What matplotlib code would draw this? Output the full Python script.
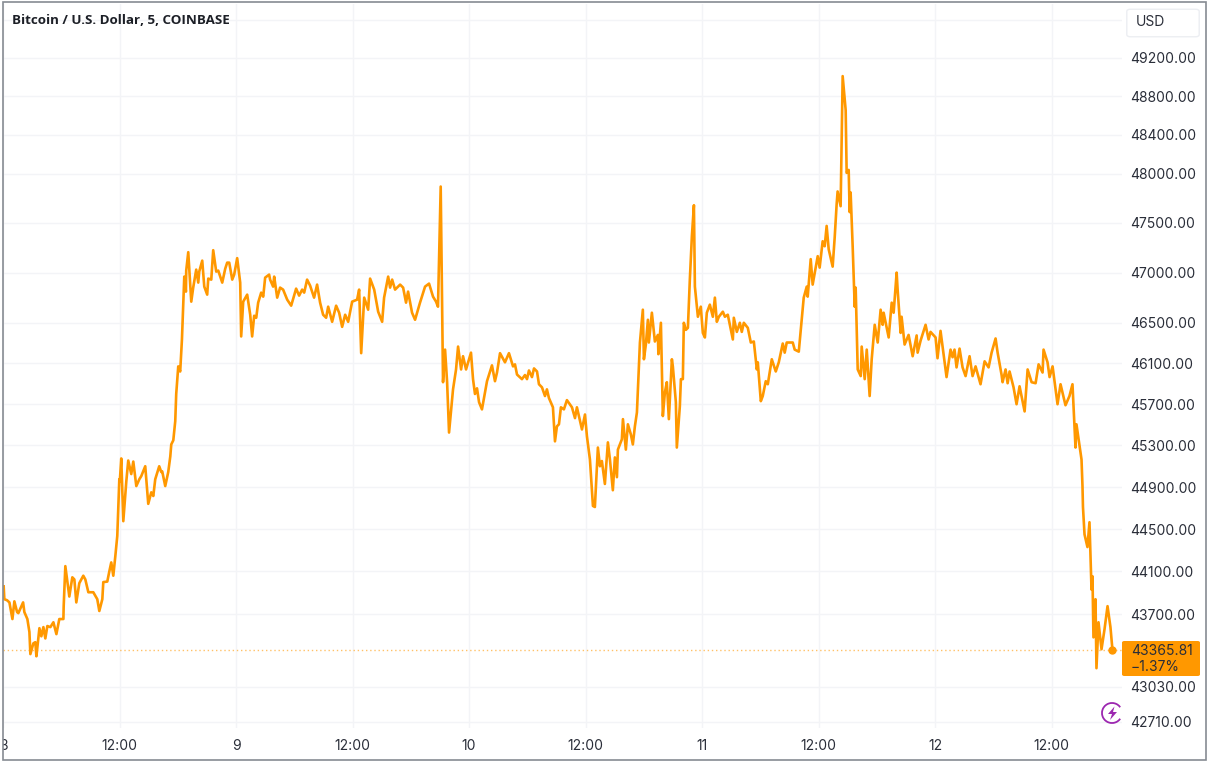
import matplotlib
matplotlib.use("Agg")
import matplotlib.pyplot as plt
from matplotlib.patches import Arc, FancyBboxPatch, Polygon, Rectangle
from matplotlib.transforms import IdentityTransform

plt.rcParams['font.family'] = ['Inter', 'DejaVu Sans']

# hours since the 8th 00:00, and price in USD
hours = [
    0.07, 0.14, 0.42, 0.66, 0.97, 1.17, 1.45, 1.58, 2.07, 2.2, 2.51, 2.72, 2.82, 3.13, 3.33, 3.44,
    3.75, 3.95, 4.16, 4.36, 4.57, 4.88, 5.19, 5.5, 5.8, 6.22, 6.25, 6.42, 6.83, 7.14, 7.35, 7.55,
    7.86, 8.27, 8.48, 8.79, 9.3, 9.71, 9.92, 10.23, 10.33, 10.74, 10.95, 11.15, 11.36, 11.57, 11.77, 11.98,
    12.03, 12.18, 12.39, 12.7, 12.9, 13.21, 13.42, 13.73, 14.04, 14.24, 14.65, 14.96, 15.27, 15.48, 15.68, 16.09,
    16.3, 16.4, 16.71, 17.02, 17.23, 17.33, 17.54, 17.74, 17.84, 18.05, 18.25, 18.43, 18.67, 18.84, 18.87, 19.08,
    19.39, 19.59, 19.9, 20.11, 20.21, 20.52, 20.73, 21.03, 21.14, 21.45, 21.65, 21.96, 22.17, 22.58, 22.89, 23.09,
    23.3, 23.61, 23.81, 24.12, 24.43, 24.53, 24.74, 25.15, 25.46, 25.66, 25.87, 26.08, 26.28, 26.59, 26.8, 27.0,
    27.41, 27.51, 27.82, 27.93, 28.24, 28.54, 28.85, 29.27, 29.68, 30.19, 30.5, 30.81, 31.02, 31.32, 31.63, 32.04,
    32.35, 32.66, 32.97, 33.28, 33.49, 33.9, 34.31, 34.62, 34.93, 35.24, 35.55, 35.96, 36.47, 36.68, 36.89, 37.2,
    37.61, 37.81, 38.23, 38.64, 39.05, 39.25, 39.67, 39.87, 40.08, 40.38, 40.9, 41.21, 41.51, 41.72, 42.13, 42.44,
    42.95, 43.47, 43.88, 44.29, 44.6, 44.8, 45.08, 45.32, 45.53, 45.74, 45.94, 46.25, 46.35, 46.66, 46.87, 47.18,
    47.38, 47.69, 48.2, 48.41, 48.61, 48.82, 49.03, 49.33, 49.64, 49.85, 50.36, 50.67, 50.88, 51.19, 51.7, 52.11,
    52.53, 52.73, 52.94, 53.45, 53.76, 53.97, 54.17, 54.48, 54.69, 55.0, 55.2, 55.51, 55.82, 56.02, 56.23, 56.64,
    56.85, 57.05, 57.26, 57.46, 57.77, 58.08, 58.6, 58.91, 59.11, 59.63, 59.94, 60.14, 60.45, 60.76, 60.96, 61.17,
    61.27, 61.48, 61.68, 61.99, 62.3, 62.51, 62.81, 63.02, 63.23, 63.33, 63.74, 63.85, 64.15, 64.36, 64.67, 64.87,
    65.08, 65.29, 65.6, 65.9, 66.01, 66.21, 66.42, 66.52, 66.83, 67.14, 67.45, 67.5, 67.76, 67.96, 68.17, 68.37,
    68.58, 68.89, 68.99, 69.3, 69.4, 69.71, 69.82, 70.02, 70.12, 70.33, 70.54, 70.74, 70.95, 71.16, 71.26, 71.57,
    71.87, 72.08, 72.29, 72.49, 72.8, 73.11, 73.32, 73.52, 73.73, 74.14, 74.35, 74.65, 75.17, 75.27, 75.58, 75.89,
    76.09, 76.3, 76.71, 77.02, 77.33, 77.64, 77.74, 78.05, 78.25, 78.56, 78.77, 79.18, 79.59, 79.9, 80.31, 80.51,
    80.72, 81.34, 81.54, 81.96, 82.26, 82.47, 82.78, 82.88, 83.19, 83.39, 83.91, 84.11, 84.42, 84.63, 84.83, 85.04,
    85.45, 85.66, 85.86, 85.96, 86.27, 86.48, 86.79, 86.89, 87.1, 87.2, 87.3, 87.51, 87.72, 87.82, 88.03, 88.34,
    88.44, 88.75, 88.96, 89.26, 89.47, 89.78, 90.09, 90.39, 90.6, 90.7, 91.22, 91.53, 91.73, 92.04, 92.14, 92.45,
    92.55, 92.86, 93.27, 93.69, 94.1, 94.2, 94.51, 95.02, 95.33, 95.53, 96.05, 96.25, 96.56, 97.18, 97.59, 97.8,
    98.0, 98.21, 98.52, 98.83, 99.14, 99.55, 99.86, 100.17, 100.68, 101.1, 101.51, 101.82, 102.23, 102.44, 102.85, 102.95,
    103.26, 103.47, 103.67, 104.08, 104.39, 104.7, 105.22, 105.53, 105.94, 106.35, 106.66, 107.07, 107.17, 107.58, 107.79, 108.1,
    108.61, 108.92, 109.43, 109.84, 110.15, 110.46, 110.56, 111.08, 111.18, 111.23, 111.39, 111.69, 111.9, 112.11, 112.21, 112.31,
    112.52, 112.62, 112.83, 113.14, 113.45, 113.76, 114.06, 114.27,
]
price = [
    43960, 43840, 43830, 43810, 43655, 43820, 43720, 43710, 43810, 43720, 43655, 43535, 43330, 43430, 43440, 43310,
    43570, 43495, 43580, 43475, 43590, 43580, 43625, 43515, 43655, 43655, 43775, 44150, 43865, 44045, 44025, 43810,
    43990, 44060, 44025, 43905, 43905, 43840, 43730, 43840, 44000, 44005, 44100, 44185, 44060, 44245, 44435, 44975,
    44955, 45175, 44575, 44955, 45155, 45025, 45145, 44910, 44975, 45005, 45100, 44740, 44850, 44815, 44975, 45100,
    45045, 45050, 44910, 45045, 45195, 45310, 45350, 45535, 45800, 46070, 46020, 46335, 46960, 46810, 47020, 47205,
    46710, 46850, 47030, 46900, 47010, 47120, 46860, 46780, 46940, 46930, 47225, 47010, 47020, 46900, 47040, 47100,
    47100, 46930, 46980, 47145, 46900, 46365, 46710, 46780, 46580, 46365, 46570, 46550, 46700, 46800, 46760, 46950,
    46980, 46930, 46860, 46960, 46750, 46850, 46830, 46730, 46670, 46840, 46770, 46830, 46800, 46930, 46870, 46750,
    46880, 46700, 46580, 46550, 46660, 46510, 46670, 46600, 46460, 46580, 46510, 46710, 46730, 46830, 46200, 46750,
    46630, 46940, 46830, 46610, 46510, 46750, 46960, 46850, 46930, 46830, 46880, 46850, 46700, 46810, 46600, 46530,
    46700, 46860, 46890, 46760, 46710, 46660, 47870, 45915, 46235, 45915, 45425, 45750, 45845, 46040, 46265, 46040,
    46170, 46040, 46205, 45945, 45800, 45855, 45720, 45650, 45815, 45925, 46080, 45925, 46010, 46200, 46110, 46200,
    46070, 46090, 45990, 45945, 45985, 45945, 46030, 45965, 46050, 46020, 45895, 45865, 45780, 45845, 45760, 45670,
    45340, 45485, 45505, 45670, 45650, 45740, 45670, 45565, 45670, 45455, 45600, 45390, 45165, 44720, 44710, 45090,
    45280, 45100, 45150, 44930, 45330, 45165, 44870, 45185, 44995, 45260, 45360, 45555, 45260, 45505, 45405, 45310,
    45485, 45620, 46305, 46630, 46140, 46285, 46530, 46305, 46600, 46315, 46380, 46190, 46500, 45585, 45815, 45915,
    45555, 46140, 46070, 45720, 45280, 45680, 45945, 45945, 46500, 46430, 46450, 46930, 47365, 47680, 46860, 46560,
    46660, 46400, 46355, 46600, 46680, 46560, 46750, 46510, 46560, 46610, 46560, 46580, 46335, 46550, 46410, 46500,
    46410, 46500, 46450, 46305, 46315, 46040, 46110, 45730, 45780, 45925, 45895, 46140, 46020, 46110, 46295, 46205,
    46305, 46305, 46235, 46215, 46530, 46750, 46860, 46760, 47135, 46880, 47165, 47050, 47315, 47265, 47470, 47235,
    47060, 47355, 47690, 47820, 47670, 49010, 48655, 48010, 48040, 47610, 47810, 47265, 46660, 46850, 46040, 45975,
    46265, 45945, 46235, 45780, 46140, 46480, 46305, 46630, 46480, 46600, 46355, 46700, 46600, 47000, 46830, 46400,
    46560, 46285, 46380, 46170, 46375, 46205, 46325, 46480, 46335, 46410, 46355, 46150, 46420, 45965, 46235, 46160,
    46235, 46060, 46245, 46060, 45975, 46170, 45975, 46070, 45895, 46120, 46060, 46205, 46345, 46205, 45985, 45915,
    46040, 45905, 46020, 45865, 45700, 45875, 45630, 46040, 45915, 45905, 46090, 46010, 46235, 46110, 45965, 46070,
    45700, 45895, 45690, 45780, 45895, 45280, 45505, 45165, 44910, 44710, 44450, 44330, 44565, 43930, 44055, 43485,
    43840, 43200, 43625, 43375, 43560, 43775, 43580, 43365.81,
]

x_ticks = [0, 12, 24, 36, 48, 60, 72, 84, 96, 108]
x_labels = ['8', '12:00', '9', '12:00', '10', '12:00', '11', '12:00', '12', '12:00']
y_ticks = [42710, 43030, 43700, 44100, 44500, 44900, 45300, 45700, 46100, 46500,
           47000, 47500, 48000, 48400, 48800, 49200, 49600]
y_labels = ['42710.00', '43030.00', '43700.00', '44100.00', '44500.00', '44900.00', '45300.00',
            '45700.00', '46100.00', '46500.00', '47000.00', '47500.00', '48000.00', '48400.00',
            '48800.00', '49200.00', '']
last_price = 43365.81
last_change = '\u22121.37%'

ORANGE = '#ff9800'
GRID = '#f3f4f7'
TEXT = '#2a2e39'
W, H = 1207, 763

fig = plt.figure(figsize=(W / 100, H / 100), dpi=100, facecolor='white')
ax = fig.add_axes([3 / W, 1 - 728 / H, 1119 / W, 724 / H])

ax.set_yscale('log')
ax.plot(hours, price, color=ORANGE, lw=1.9, solid_joinstyle='round', zorder=3)
ax.axhline(last_price, color=ORANGE, lw=1, ls=(0, (1, 2)), alpha=0.6, zorder=2)
ax.plot(hours[-1], last_price, 'o', color=ORANGE, ms=5, zorder=4)

ax.set_xlim(0.01, 115.25)
ax.set_ylim(42653, 49769)
ax.set_xticks(x_ticks)
ax.set_xticklabels(x_labels)
ax.yaxis.tick_right()
ax.set_yticks(y_ticks)
ax.set_yticklabels(y_labels)
ax.minorticks_off()
ax.tick_params(axis='both', length=0, labelsize=10, labelcolor=TEXT)
ax.tick_params(axis='x', pad=8)
ax.tick_params(axis='y', pad=6)
ax.grid(True, color=GRID, lw=1)
ax.set_axisbelow(True)
for s in ax.spines.values():
    s.set_visible(False)

# everything below is placed in screen pixels, y measured from the top
def px(x, y):
    return x / W, 1 - y / H

fig.text(*px(12, 21), 'Bitcoin / U.S. Dollar, 5, COINBASE', family='Open Sans', weight='bold',
         fontsize=9.6, color='#1c1f26', va='center', ha='left')

# currency button
usd = FancyBboxPatch(px(1128, 36), 70 / W, 26 / H, boxstyle='round,pad=0.001,rounding_size=0.003',
                     transform=fig.transFigure, fc='white', ec='#eceef2', lw=1, zorder=6)
fig.add_artist(usd)
fig.text(*px(1136, 22), 'USD', fontsize=10, color=TEXT, va='center', ha='left', zorder=7)

# last price label
box = FancyBboxPatch(px(1122, 676), 78 / W, 35 / H, boxstyle='round,pad=0,rounding_size=0.002',
                     transform=fig.transFigure, fc=ORANGE, ec='none', zorder=6)
fig.add_artist(box)
fig.text(*px(1131, 651), f'{last_price:.2f}', fontsize=10, color=TEXT, va='center', ha='left', zorder=7)
fig.text(*px(1131, 667), last_change, fontsize=10, color=TEXT, va='center', ha='left', zorder=7)

# small purple logo
PURPLE = '#9c27b0'
fig.add_artist(Arc((1112, H - 713), 20, 20, theta1=35, theta2=325, color=PURPLE, lw=1.3,
                   transform=IdentityTransform(), zorder=7))
bolt = [(1114.5, 706.5), (1108, 714), (1112, 714), (1110, 720), (1117, 712), (1113, 712)]
fig.add_artist(Polygon([(x, H - y) for x, y in bolt], closed=True, fc=PURPLE, ec='none',
                       transform=IdentityTransform(), zorder=7))

# screenshot frame, hides the left half of the first date label
fig.add_artist(Rectangle((0, 0), 2.5 / W, 1, transform=fig.transFigure, fc='white', ec='none', zorder=8))
fig.add_artist(Rectangle(px(2.5, 760), 1203 / W, 758 / H, transform=fig.transFigure, fill=False,
                         ec='#868b92', lw=1.2, zorder=9))

fig.savefig('out.png', dpi=100)
